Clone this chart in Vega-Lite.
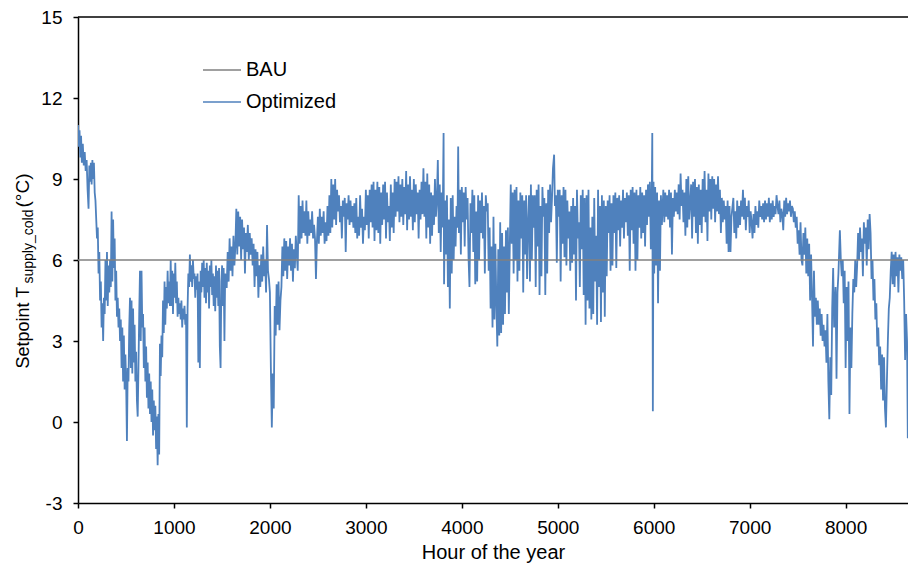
{
"$schema":"https://vega.github.io/schema/vega-lite/v6.json",
"width":830,"height":486,
"autosize":{"type":"none"},
"padding":{"left":78,"top":17,"right":0,"bottom":65},
"background":"white",
"config":{"font":"Liberation Sans","view":{"stroke":null},
"axis":{"grid":false,"domainColor":"black","domainWidth":1.5,"tickColor":"black","tickWidth":1.5,"tickSize":5,"labelColor":"black","labelFontSize":19,"titleFontSize":20,"titleFontWeight":"normal","titleColor":"black","labelFont":"Liberation Sans","titleFont":"Liberation Sans"}},
"resolve":{"scale":{"y":"independent"},"axis":{"y":"independent"}},
"datasets":{
"bau":[{"h":0,"v":6},{"h":8650,"v":6}],
"opt":[
{"h":0,"v":11.0},{"h":8,"v":10.2},{"h":16,"v":10.8},{"h":24,"v":9.8},{"h":32,"v":10.6},{"h":40,"v":9.6},{"h":50,"v":10.3},{"h":60,"v":9.5},{"h":70,"v":10.0},{"h":80,"v":9.3},{"h":90,"v":9.7},{"h":100,"v":8.6},{"h":110,"v":7.9},{"h":118,"v":9.5},{"h":126,"v":8.9},{"h":134,"v":9.6},{"h":142,"v":8.8},{"h":150,"v":9.7},{"h":158,"v":9.0},{"h":166,"v":9.6},{"h":174,"v":8.5},{"h":182,"v":8.2},{"h":190,"v":7.5},{"h":198,"v":6.8},{"h":206,"v":7.2},{"h":214,"v":5.5},{"h":222,"v":6.3},{"h":230,"v":4.5},{"h":238,"v":5.2},{"h":246,"v":3.5},{"h":254,"v":4.4},{"h":262,"v":3.0},{"h":270,"v":4.6},{"h":278,"v":4.0},{"h":286,"v":6.0},{"h":294,"v":4.5},{"h":302,"v":6.3},{"h":310,"v":4.3},{"h":318,"v":5.8},{"h":326,"v":4.8},{"h":334,"v":6.0},{"h":342,"v":5.0},{"h":350,"v":7.8},{"h":358,"v":5.2},{"h":366,"v":7.5},{"h":374,"v":5.7},{"h":382,"v":6.8},{"h":390,"v":4.5},{"h":398,"v":5.6},{"h":406,"v":3.9},{"h":414,"v":4.6},{"h":422,"v":3.5},{"h":430,"v":4.2},{"h":438,"v":3.0},{"h":446,"v":3.8},{"h":454,"v":2.0},{"h":462,"v":3.5},{"h":470,"v":1.5},{"h":478,"v":3.2},{"h":486,"v":1.2},{"h":494,"v":2.5},{"h":502,"v":1.4},{"h":510,"v":-0.7},{"h":518,"v":2.0},{"h":526,"v":1.5},{"h":534,"v":3.5},{"h":542,"v":4.6},{"h":550,"v":2.0},{"h":558,"v":4.5},{"h":566,"v":1.8},{"h":574,"v":4.2},{"h":582,"v":2.2},{"h":590,"v":3.6},{"h":598,"v":1.5},{"h":606,"v":2.6},{"h":614,"v":0.8},{"h":622,"v":0.2},{"h":630,"v":2.0},{"h":638,"v":4.0},{"h":646,"v":5.6},{"h":654,"v":3.0},{"h":662,"v":5.6},{"h":670,"v":3.5},{"h":678,"v":4.0},{"h":686,"v":2.0},{"h":694,"v":3.5},{"h":702,"v":1.5},{"h":710,"v":2.8},{"h":718,"v":0.9},{"h":726,"v":2.2},{"h":734,"v":0.5},{"h":742,"v":1.8},{"h":750,"v":0.3},{"h":758,"v":1.5},{"h":766,"v":0.0},{"h":774,"v":1.2},{"h":782,"v":-0.5},{"h":790,"v":0.8},{"h":798,"v":-0.3},{"h":806,"v":0.6},{"h":814,"v":-1.0},{"h":822,"v":0.2},{"h":830,"v":-1.6},{"h":838,"v":0.3},{"h":846,"v":-1.2},{"h":854,"v":2.9},{"h":862,"v":1.7},{"h":870,"v":3.2},{"h":878,"v":2.4},{"h":886,"v":4.5},{"h":894,"v":3.3},{"h":902,"v":5.2},{"h":910,"v":3.6},{"h":918,"v":5.0},{"h":926,"v":4.2},{"h":934,"v":5.6},{"h":942,"v":4.4},{"h":950,"v":5.2},{"h":958,"v":4.3},{"h":966,"v":6.0},{"h":974,"v":4.3},{"h":982,"v":5.6},{"h":990,"v":4.0},{"h":998,"v":5.5},{"h":1006,"v":4.6},{"h":1014,"v":5.9},{"h":1022,"v":4.4},{"h":1030,"v":5.2},{"h":1038,"v":3.9},{"h":1046,"v":4.6},{"h":1054,"v":4.0},{"h":1062,"v":4.4},{"h":1070,"v":3.8},{"h":1078,"v":4.5},{"h":1086,"v":3.5},{"h":1094,"v":4.2},{"h":1102,"v":3.8},{"h":1110,"v":4.3},{"h":1118,"v":3.6},{"h":1126,"v":4.0},{"h":1134,"v":-0.2},{"h":1142,"v":4.2},{"h":1150,"v":5.5},{"h":1158,"v":5.0},{"h":1166,"v":6.2},{"h":1174,"v":5.2},{"h":1182,"v":5.8},{"h":1190,"v":5.0},{"h":1198,"v":6.0},{"h":1206,"v":5.3},{"h":1214,"v":5.5},{"h":1222,"v":4.6},{"h":1230,"v":5.4},{"h":1238,"v":4.9},{"h":1246,"v":5.5},{"h":1254,"v":2.2},{"h":1262,"v":5.2},{"h":1270,"v":2.0},{"h":1278,"v":5.6},{"h":1286,"v":4.8},{"h":1294,"v":5.9},{"h":1302,"v":5.0},{"h":1310,"v":6.0},{"h":1318,"v":4.6},{"h":1326,"v":5.7},{"h":1334,"v":4.4},{"h":1342,"v":5.9},{"h":1350,"v":4.8},{"h":1358,"v":5.6},{"h":1366,"v":4.2},{"h":1374,"v":5.8},{"h":1382,"v":5.0},{"h":1390,"v":6.0},{"h":1398,"v":4.7},{"h":1406,"v":5.5},{"h":1414,"v":4.3},{"h":1422,"v":5.4},{"h":1430,"v":4.1},{"h":1438,"v":5.8},{"h":1446,"v":4.6},{"h":1454,"v":5.6},{"h":1462,"v":4.3},{"h":1470,"v":5.7},{"h":1478,"v":2.8},{"h":1486,"v":2.0},{"h":1494,"v":5.2},{"h":1502,"v":5.8},{"h":1510,"v":4.3},{"h":1518,"v":5.7},{"h":1526,"v":3.0},{"h":1534,"v":5.5},{"h":1542,"v":5.0},
{"h":1550,"v":5.0},{"h":1560,"v":6.3},{"h":1570,"v":5.2},{"h":1580,"v":6.8},{"h":1590,"v":5.6},{"h":1600,"v":6.5},{"h":1610,"v":5.4},{"h":1620,"v":6.9},{"h":1630,"v":5.8},{"h":1640,"v":6.5},{"h":1650,"v":7.9},{"h":1660,"v":6.2},{"h":1670,"v":7.8},{"h":1680,"v":6.5},{"h":1690,"v":7.6},{"h":1700,"v":6.0},{"h":1710,"v":7.5},{"h":1720,"v":6.4},{"h":1730,"v":7.2},{"h":1740,"v":5.5},{"h":1750,"v":7.0},{"h":1760,"v":6.3},{"h":1770,"v":7.3},{"h":1780,"v":6.0},{"h":1790,"v":7.0},{"h":1800,"v":6.2},{"h":1810,"v":6.8},{"h":1820,"v":5.8},{"h":1830,"v":6.6},{"h":1840,"v":5.0},{"h":1850,"v":6.4},{"h":1860,"v":5.4},{"h":1870,"v":6.3},{"h":1880,"v":4.6},{"h":1890,"v":5.8},{"h":1900,"v":5.0},{"h":1910,"v":6.2},{"h":1920,"v":5.2},{"h":1930,"v":6.5},{"h":1940,"v":5.4},{"h":1950,"v":6.0},{"h":1960,"v":4.8},{"h":1970,"v":7.3},{"h":1980,"v":5.6},{"h":1990,"v":5.3},{"h":2000,"v":4.8},{"h":2010,"v":2.0},{"h":2020,"v":-0.2},{"h":2030,"v":1.8},{"h":2040,"v":0.5},{"h":2050,"v":4.3},{"h":2060,"v":3.2},{"h":2070,"v":5.1},{"h":2080,"v":3.6},{"h":2090,"v":5.2},{"h":2100,"v":3.4},{"h":2110,"v":4.5},{"h":2120,"v":5.0},{"h":2130,"v":6.5},{"h":2140,"v":5.4},{"h":2150,"v":6.8},{"h":2160,"v":5.6},{"h":2170,"v":6.7},{"h":2180,"v":5.3},{"h":2190,"v":6.5},{"h":2200,"v":5.8},{"h":2210,"v":6.8},{"h":2220,"v":5.6},{"h":2230,"v":6.6},{"h":2240,"v":5.2},{"h":2250,"v":6.4},{"h":2260,"v":5.7},{"h":2270,"v":6.9},{"h":2280,"v":6.2},{"h":2290,"v":5.6},{"h":2300,"v":8.4},{"h":2310,"v":6.6},{"h":2320,"v":8.0},{"h":2330,"v":6.8},{"h":2340,"v":8.2},{"h":2350,"v":7.0},{"h":2360,"v":7.8},{"h":2370,"v":6.9},{"h":2380,"v":8.2},{"h":2390,"v":6.6},{"h":2400,"v":7.8},{"h":2410,"v":6.9},{"h":2420,"v":7.5},{"h":2430,"v":7.0},{"h":2440,"v":7.8},{"h":2450,"v":6.8},{"h":2460,"v":7.3},{"h":2470,"v":6.8},{"h":2480,"v":5.3},{"h":2490,"v":6.7},{"h":2500,"v":7.6},{"h":2510,"v":6.6},{"h":2520,"v":7.9},{"h":2530,"v":6.9},{"h":2540,"v":7.6},{"h":2550,"v":7.0},{"h":2560,"v":7.8},{"h":2570,"v":6.6},{"h":2580,"v":7.4},{"h":2590,"v":6.7},{"h":2600,"v":8.0},{"h":2610,"v":6.9},{"h":2620,"v":8.4},{"h":2630,"v":7.0},{"h":2640,"v":9.0},{"h":2650,"v":7.2},{"h":2660,"v":8.8},{"h":2670,"v":7.5},{"h":2680,"v":9.0},{"h":2690,"v":7.3},{"h":2700,"v":8.6},{"h":2710,"v":7.8},{"h":2720,"v":8.4},{"h":2730,"v":7.4},{"h":2740,"v":8.0},{"h":2750,"v":6.8},{"h":2760,"v":8.2},{"h":2770,"v":7.6},{"h":2780,"v":8.3},{"h":2790,"v":6.3},{"h":2800,"v":8.1},{"h":2810,"v":7.5},{"h":2820,"v":8.4},{"h":2830,"v":7.3},{"h":2840,"v":8.2},{"h":2850,"v":7.4},{"h":2860,"v":8.0},{"h":2870,"v":7.2},{"h":2880,"v":8.1},
{"h":2890,"v":7.0},{"h":2900,"v":8.3},{"h":2910,"v":6.8},{"h":2920,"v":7.6},{"h":2930,"v":6.9},{"h":2940,"v":8.4},{"h":2950,"v":7.2},{"h":2960,"v":7.9},{"h":2970,"v":6.6},{"h":2980,"v":7.6},{"h":2990,"v":7.1},{"h":3000,"v":8.6},{"h":3010,"v":7.3},{"h":3020,"v":8.4},{"h":3030,"v":6.8},{"h":3040,"v":8.6},{"h":3050,"v":7.4},{"h":3060,"v":8.8},{"h":3070,"v":7.2},{"h":3080,"v":8.9},{"h":3090,"v":6.7},{"h":3100,"v":8.6},{"h":3110,"v":7.1},{"h":3120,"v":8.9},{"h":3130,"v":7.0},{"h":3140,"v":8.7},{"h":3150,"v":6.6},{"h":3160,"v":8.5},{"h":3170,"v":7.3},{"h":3180,"v":8.8},{"h":3190,"v":7.5},{"h":3200,"v":8.9},{"h":3210,"v":6.8},{"h":3220,"v":8.5},{"h":3230,"v":7.4},{"h":3240,"v":8.0},{"h":3250,"v":6.7},{"h":3260,"v":8.8},{"h":3270,"v":7.2},{"h":3280,"v":8.5},{"h":3290,"v":7.0},{"h":3300,"v":9.0},{"h":3310,"v":7.6},{"h":3320,"v":8.9},{"h":3330,"v":7.8},{"h":3340,"v":9.1},{"h":3350,"v":7.4},{"h":3360,"v":8.8},{"h":3370,"v":7.6},{"h":3380,"v":9.0},{"h":3390,"v":7.3},{"h":3400,"v":8.7},{"h":3410,"v":7.7},{"h":3420,"v":9.3},{"h":3430,"v":7.1},{"h":3440,"v":8.8},{"h":3450,"v":7.5},{"h":3460,"v":9.1},{"h":3470,"v":7.6},{"h":3480,"v":8.6},{"h":3490,"v":7.1},{"h":3500,"v":9.0},{"h":3510,"v":7.4},{"h":3520,"v":8.8},{"h":3530,"v":7.7},{"h":3540,"v":8.5},{"h":3550,"v":6.8},{"h":3560,"v":8.6},{"h":3570,"v":7.5},{"h":3580,"v":8.9},{"h":3590,"v":7.7},{"h":3600,"v":9.4},{"h":3610,"v":7.6},{"h":3620,"v":8.9},{"h":3630,"v":6.8},{"h":3640,"v":9.2},{"h":3650,"v":7.2},{"h":3660,"v":8.8},{"h":3670,"v":6.6},{"h":3680,"v":8.5},{"h":3690,"v":6.9},{"h":3700,"v":8.4},{"h":3710,"v":7.3},{"h":3720,"v":9.0},{"h":3730,"v":7.6},{"h":3740,"v":8.2},{"h":3750,"v":9.7},{"h":3760,"v":7.0},{"h":3770,"v":8.8},{"h":3780,"v":6.3},{"h":3790,"v":8.5},{"h":3800,"v":7.2},{"h":3810,"v":10.7},{"h":3815,"v":5.1},{"h":3825,"v":8.2},{"h":3835,"v":6.2},{"h":3845,"v":8.4},{"h":3855,"v":5.0},{"h":3865,"v":7.5},{"h":3875,"v":4.2},{"h":3885,"v":8.3},{"h":3895,"v":5.5},{"h":3905,"v":8.4},{"h":3915,"v":6.0},{"h":3925,"v":7.6},{"h":3935,"v":6.5},{"h":3945,"v":8.0},{"h":3955,"v":7.2},{"h":3962,"v":10.2},{"h":3970,"v":7.0},{"h":3980,"v":8.6},{"h":3990,"v":6.2},{"h":4000,"v":8.7},{"h":4010,"v":7.4},{"h":4020,"v":8.5},{"h":4030,"v":6.5},{"h":4040,"v":8.7},{"h":4050,"v":7.5},{"h":4060,"v":8.3},{"h":4070,"v":6.1},{"h":4080,"v":5.0},{"h":4090,"v":8.1},{"h":4100,"v":7.0},{"h":4110,"v":8.6},{"h":4120,"v":6.3},{"h":4130,"v":8.4},{"h":4140,"v":5.1},{"h":4150,"v":7.8},{"h":4160,"v":5.2},{"h":4170,"v":8.4},{"h":4180,"v":6.0},{"h":4190,"v":8.2},{"h":4200,"v":7.0},{"h":4210,"v":8.5},{"h":4220,"v":6.8},{"h":4230,"v":8.0},{"h":4240,"v":5.5},{"h":4250,"v":8.4},{"h":4260,"v":7.8},{"h":4270,"v":8.1},{"h":4280,"v":5.6},{"h":4290,"v":7.2},{"h":4300,"v":4.2},{"h":4310,"v":6.5},{"h":4320,"v":3.5},{"h":4330,"v":7.6},{"h":4340,"v":3.8},{"h":4350,"v":6.6},{"h":4360,"v":4.4},{"h":4370,"v":2.8},{"h":4380,"v":6.4},{"h":4390,"v":3.2},
{"h":4400,"v":7.4},{"h":4410,"v":3.3},{"h":4420,"v":7.0},{"h":4430,"v":3.6},{"h":4440,"v":6.5},{"h":4450,"v":4.0},{"h":4460,"v":7.1},{"h":4470,"v":4.8},{"h":4480,"v":7.2},{"h":4490,"v":4.0},{"h":4500,"v":6.5},{"h":4510,"v":8.8},{"h":4520,"v":6.6},{"h":4530,"v":8.5},{"h":4540,"v":5.5},{"h":4550,"v":8.6},{"h":4560,"v":6.0},{"h":4570,"v":8.7},{"h":4580,"v":5.2},{"h":4590,"v":8.2},{"h":4600,"v":5.6},{"h":4610,"v":8.5},{"h":4620,"v":6.8},{"h":4630,"v":8.4},{"h":4640,"v":4.8},{"h":4650,"v":8.2},{"h":4660,"v":6.2},{"h":4670,"v":8.4},{"h":4680,"v":5.3},{"h":4690,"v":7.4},{"h":4700,"v":8.4},{"h":4710,"v":5.2},{"h":4720,"v":8.8},{"h":4730,"v":6.0},{"h":4740,"v":8.4},{"h":4750,"v":7.2},{"h":4760,"v":8.4},{"h":4770,"v":5.0},{"h":4780,"v":8.6},{"h":4790,"v":6.5},{"h":4800,"v":8.8},{"h":4810,"v":4.7},{"h":4820,"v":8.0},{"h":4830,"v":5.4},{"h":4840,"v":8.7},{"h":4850,"v":7.6},{"h":4860,"v":8.3},{"h":4870,"v":4.7},{"h":4880,"v":8.1},{"h":4890,"v":5.5},{"h":4900,"v":8.6},{"h":4910,"v":7.0},{"h":4920,"v":8.8},{"h":4930,"v":7.4},{"h":4940,"v":8.3},{"h":4950,"v":9.4},{"h":4962,"v":9.9},{"h":4970,"v":8.0},{"h":4980,"v":8.4},{"h":4990,"v":5.9},{"h":5000,"v":8.6},{"h":5010,"v":7.6},{"h":5020,"v":8.6},{"h":5030,"v":5.2},{"h":5040,"v":8.4},{"h":5050,"v":6.6},{"h":5060,"v":8.7},{"h":5070,"v":6.1},{"h":5080,"v":8.6},{"h":5090,"v":5.8},{"h":5100,"v":8.2},{"h":5110,"v":6.8},{"h":5120,"v":7.8},{"h":5130,"v":5.6},{"h":5140,"v":8.0},{"h":5150,"v":5.9},{"h":5160,"v":8.3},{"h":5170,"v":6.2},{"h":5180,"v":8.0},{"h":5190,"v":4.5},{"h":5200,"v":8.6},{"h":5210,"v":6.8},{"h":5220,"v":7.4},{"h":5230,"v":5.0},{"h":5240,"v":8.4},{"h":5250,"v":6.4},{"h":5260,"v":8.6},{"h":5270,"v":4.7},{"h":5280,"v":8.3},{"h":5290,"v":3.6},{"h":5300,"v":8.4},{"h":5310,"v":4.5},{"h":5320,"v":8.6},{"h":5330,"v":4.2},{"h":5340,"v":7.2},{"h":5350,"v":3.8},{"h":5360,"v":7.6},{"h":5370,"v":4.0},{"h":5380,"v":8.3},{"h":5390,"v":5.2},{"h":5400,"v":6.9},{"h":5410,"v":3.6},{"h":5420,"v":8.6},{"h":5430,"v":5.0},{"h":5440,"v":8.0},{"h":5450,"v":3.7},{"h":5460,"v":8.4},{"h":5470,"v":4.8},{"h":5480,"v":8.2},{"h":5490,"v":3.9},{"h":5500,"v":8.0},{"h":5510,"v":5.4},{"h":5520,"v":8.2},{"h":5530,"v":7.0},{"h":5540,"v":8.4},{"h":5550,"v":5.6},{"h":5560,"v":8.1},{"h":5570,"v":5.8},{"h":5580,"v":8.4},{"h":5590,"v":7.0},{"h":5600,"v":8.5},{"h":5610,"v":5.7},{"h":5620,"v":8.3},{"h":5630,"v":7.1},{"h":5640,"v":8.4},{"h":5650,"v":6.5},{"h":5660,"v":8.2},{"h":5670,"v":7.2},{"h":5680,"v":8.6},{"h":5690,"v":6.8},{"h":5700,"v":8.3},{"h":5710,"v":7.4},{"h":5720,"v":8.5},{"h":5730,"v":6.9},{"h":5740,"v":8.4},{"h":5750,"v":5.6},{"h":5760,"v":8.6},{"h":5770,"v":7.1},{"h":5780,"v":8.7},{"h":5790,"v":6.6},{"h":5800,"v":8.5},{"h":5810,"v":5.6},
{"h":5820,"v":8.6},{"h":5830,"v":6.0},{"h":5840,"v":8.4},{"h":5850,"v":7.2},{"h":5860,"v":8.7},{"h":5870,"v":6.8},{"h":5880,"v":8.5},{"h":5890,"v":7.0},{"h":5900,"v":8.4},{"h":5910,"v":6.5},{"h":5920,"v":8.6},{"h":5930,"v":7.3},{"h":5940,"v":8.8},{"h":5950,"v":7.6},{"h":5960,"v":8.9},{"h":5970,"v":6.4},{"h":5980,"v":8.6},{"h":5985,"v":10.7},{"h":5991,"v":0.4},{"h":5998,"v":8.9},{"h":6005,"v":5.5},{"h":6015,"v":8.7},{"h":6025,"v":5.8},{"h":6035,"v":8.5},{"h":6045,"v":4.4},{"h":6055,"v":8.2},{"h":6065,"v":5.6},{"h":6075,"v":8.4},{"h":6085,"v":7.3},{"h":6100,"v":8.6},{"h":6110,"v":7.4},{"h":6120,"v":8.5},{"h":6130,"v":7.6},{"h":6140,"v":8.4},{"h":6150,"v":7.5},{"h":6160,"v":8.6},{"h":6170,"v":7.2},{"h":6180,"v":8.5},{"h":6190,"v":6.2},{"h":6200,"v":8.3},{"h":6210,"v":7.6},{"h":6220,"v":8.6},{"h":6230,"v":7.8},{"h":6240,"v":8.5},{"h":6250,"v":7.7},{"h":6260,"v":8.8},{"h":6270,"v":7.5},{"h":6280,"v":9.2},{"h":6290,"v":8.0},{"h":6300,"v":8.6},{"h":6310,"v":7.4},{"h":6320,"v":8.5},{"h":6330,"v":6.9},{"h":6340,"v":9.0},{"h":6350,"v":7.2},{"h":6360,"v":9.1},{"h":6370,"v":7.5},{"h":6390,"v":8.8},{"h":6400,"v":6.8},{"h":6410,"v":8.9},{"h":6420,"v":7.6},{"h":6430,"v":9.0},{"h":6440,"v":7.0},{"h":6450,"v":8.7},{"h":6460,"v":6.6},{"h":6470,"v":8.8},{"h":6480,"v":7.3},{"h":6490,"v":8.6},{"h":6500,"v":7.0},{"h":6510,"v":9.0},{"h":6520,"v":7.6},{"h":6530,"v":9.3},{"h":6540,"v":7.4},{"h":6550,"v":8.6},{"h":6560,"v":6.7},{"h":6570,"v":9.2},{"h":6580,"v":7.8},{"h":6590,"v":9.0},{"h":6600,"v":7.5},{"h":6610,"v":9.1},{"h":6620,"v":7.9},{"h":6630,"v":9.0},{"h":6640,"v":7.4},{"h":6650,"v":8.8},{"h":6660,"v":7.8},{"h":6670,"v":9.1},{"h":6680,"v":7.7},{"h":6690,"v":8.6},{"h":6700,"v":7.0},{"h":6710,"v":8.3},{"h":6720,"v":7.4},{"h":6730,"v":8.2},{"h":6740,"v":7.5},{"h":6750,"v":8.0},{"h":6760,"v":6.6},{"h":6770,"v":8.2},{"h":6780,"v":6.3},{"h":6790,"v":8.0},{"h":6800,"v":6.3},{"h":6810,"v":7.6},{"h":6830,"v":8.3},{"h":6840,"v":7.0},{"h":6850,"v":7.8},{"h":6860,"v":6.8},{"h":6870,"v":8.2},{"h":6880,"v":7.2},{"h":6890,"v":8.0},{"h":6900,"v":7.3},{"h":6910,"v":8.2},{"h":6920,"v":7.6},{"h":6930,"v":8.6},{"h":6940,"v":7.5},{"h":6950,"v":8.3},{"h":6960,"v":7.1},{"h":6970,"v":8.0},{"h":6980,"v":7.6},{"h":6990,"v":8.2},{"h":7000,"v":7.0},{"h":7010,"v":7.8},{"h":7020,"v":7.4},{"h":7030,"v":6.8},{"h":7040,"v":7.7},{"h":7050,"v":7.0},{"h":7060,"v":8.0},{"h":7070,"v":7.3},{"h":7080,"v":7.8},{"h":7090,"v":7.2},{"h":7100,"v":8.2},{"h":7110,"v":7.6},{"h":7120,"v":8.0},{"h":7130,"v":7.5},{"h":7140,"v":8.1},{"h":7150,"v":7.4},{"h":7160,"v":8.2},{"h":7170,"v":7.5},{"h":7180,"v":8.1},{"h":7190,"v":7.6},{"h":7200,"v":8.3},{"h":7210,"v":7.4},
{"h":7220,"v":8.1},{"h":7230,"v":7.5},{"h":7240,"v":8.2},{"h":7250,"v":7.6},{"h":7260,"v":8.0},{"h":7270,"v":7.7},{"h":7280,"v":8.4},{"h":7290,"v":8.0},{"h":7300,"v":7.7},{"h":7310,"v":8.2},{"h":7320,"v":7.4},{"h":7330,"v":7.9},{"h":7340,"v":7.7},{"h":7350,"v":7.1},{"h":7360,"v":8.2},{"h":7370,"v":7.6},{"h":7380,"v":8.3},{"h":7390,"v":7.7},{"h":7400,"v":8.1},{"h":7410,"v":7.8},{"h":7420,"v":8.2},{"h":7430,"v":7.6},{"h":7440,"v":8.0},{"h":7450,"v":7.9},{"h":7460,"v":7.4},{"h":7470,"v":7.8},{"h":7480,"v":7.2},{"h":7490,"v":7.6},{"h":7500,"v":6.6},{"h":7510,"v":7.1},{"h":7520,"v":6.2},{"h":7530,"v":7.4},{"h":7540,"v":6.0},{"h":7550,"v":5.8},{"h":7560,"v":7.0},{"h":7570,"v":6.2},{"h":7580,"v":7.2},{"h":7590,"v":5.5},{"h":7600,"v":6.8},{"h":7610,"v":5.4},{"h":7620,"v":6.6},{"h":7630,"v":4.5},{"h":7640,"v":6.2},{"h":7650,"v":4.6},{"h":7660,"v":2.8},{"h":7670,"v":5.6},{"h":7680,"v":3.9},{"h":7690,"v":4.6},{"h":7700,"v":3.6},{"h":7710,"v":4.5},{"h":7720,"v":3.6},{"h":7730,"v":4.2},{"h":7740,"v":3.2},{"h":7750,"v":4.0},{"h":7760,"v":3.0},{"h":7770,"v":3.6},{"h":7780,"v":2.8},{"h":7790,"v":3.4},{"h":7800,"v":2.2},{"h":7810,"v":4.0},{"h":7820,"v":1.5},{"h":7830,"v":0.1},{"h":7840,"v":2.4},{"h":7850,"v":1.0},{"h":7860,"v":4.2},{"h":7870,"v":5.7},{"h":7880,"v":3.5},{"h":7895,"v":5.0},{"h":7905,"v":1.6},{"h":7915,"v":4.8},{"h":7925,"v":5.5},{"h":7940,"v":7.1},{"h":7950,"v":6.0},{"h":7960,"v":5.4},{"h":7970,"v":6.0},{"h":7980,"v":4.4},{"h":7990,"v":5.6},{"h":8000,"v":2.0},{"h":8010,"v":5.0},{"h":8020,"v":3.0},{"h":8030,"v":5.2},{"h":8040,"v":0.3},{"h":8050,"v":3.5},{"h":8060,"v":2.0},{"h":8070,"v":4.0},{"h":8080,"v":5.3},{"h":8090,"v":4.8},{"h":8100,"v":6.0},{"h":8110,"v":5.0},{"h":8120,"v":5.8},{"h":8130,"v":7.0},{"h":8140,"v":6.0},{"h":8150,"v":7.2},{"h":8160,"v":6.3},{"h":8170,"v":6.8},{"h":8180,"v":5.4},{"h":8190,"v":7.4},{"h":8200,"v":6.6},{"h":8210,"v":7.2},{"h":8220,"v":5.8},{"h":8230,"v":7.5},{"h":8240,"v":6.4},{"h":8250,"v":7.7},{"h":8260,"v":7.0},{"h":8270,"v":5.3},{"h":8280,"v":6.0},{"h":8290,"v":4.5},{"h":8300,"v":5.3},{"h":8310,"v":3.8},{"h":8320,"v":4.4},{"h":8330,"v":2.8},{"h":8340,"v":3.5},{"h":8350,"v":2.1},{"h":8360,"v":2.8},{"h":8370,"v":1.2},{"h":8380,"v":2.5},{"h":8390,"v":0.8},{"h":8400,"v":2.4},{"h":8410,"v":0.5},{"h":8420,"v":-0.2},{"h":8430,"v":1.5},{"h":8440,"v":3.0},{"h":8450,"v":4.2},{"h":8460,"v":4.6},{"h":8470,"v":5.6},{"h":8480,"v":6.3},{"h":8490,"v":5.1},{"h":8500,"v":6.2},{"h":8510,"v":5.0},{"h":8520,"v":6.3},{"h":8530,"v":5.4},{"h":8540,"v":6.1},{"h":8550,"v":4.8},{"h":8560,"v":6.2},{"h":8570,"v":5.6},{"h":8580,"v":6.1},{"h":8590,"v":5.3},{"h":8600,"v":6.0},{"h":8610,"v":4.5},{"h":8620,"v":2.3},{"h":8630,"v":4.0},{"h":8640,"v":3.0},{"h":8648,"v":-0.6},{"h":8660,"v":2.0}
]},
"layer":[
{"data":{"name":"opt"},
 "mark":{"type":"line","strokeWidth":1.8,"clip":true},
 "encoding":{
  "x":{"field":"h","type":"quantitative","scale":{"domain":[0,8650],"nice":false,"zero":false},
       "axis":{"values":[0,1000,2000,3000,4000,5000,6000,7000,8000],"labelExpr":"''+datum.value","title":"Hour of the year","labelPadding":10,"titlePadding":5,"labelFlush":false}},
  "y":{"field":"v","type":"quantitative","scale":{"domain":[-3,15],"nice":false,"zero":false},
       "axis":{"orient":"left","values":[-3,0,3,6,9,12,15],"labelExpr":"''+datum.value","labelPadding":11,"title":"Setpoint T","titleFontSize":18,"titleAngle":270,"titleAlign":"left","titleBaseline":"alphabetic","titleX":-50,"titleY":351}},
  "color":{"datum":"Optimized","type":"nominal",
       "scale":{"domain":["BAU","Optimized"],"range":["#808080","#4f81bd"]},
       "legend":{"title":null,"orient":"none","legendX":124,"legendY":33,"symbolType":"stroke","symbolSize":1444,"symbolStrokeWidth":1.5,"labelFontSize":20,"labelColor":"black","labelOffset":4,"rowPadding":2}}
 }},
{"data":{"name":"bau"},
 "mark":{"type":"line","strokeWidth":1.3},
 "encoding":{"x":{"field":"h","type":"quantitative"},
  "y":{"field":"v","type":"quantitative","scale":{"domain":[-3,15],"nice":false,"zero":false},
       "axis":{"orient":"left","domain":false,"ticks":false,"labels":false,"title":"supply_cold","titleFontSize":14,"titleAngle":270,"titleAlign":"left","titleBaseline":"alphabetic","titleX":-46,"titleY":266}},
  "color":{"datum":"BAU","type":"nominal"}}},
{"data":{"values":[{}]},
 "mark":{"type":"rule","color":"black","strokeWidth":1.5},
 "encoding":{"y":{"datum":15,"type":"quantitative","scale":{"domain":[-3,15],"nice":false,"zero":false},
       "axis":{"orient":"left","domain":false,"ticks":false,"labels":false,"title":"(°C)","titleFontSize":19,"titleAngle":270,"titleAlign":"left","titleBaseline":"alphabetic","titleX":-50,"titleY":190}}}}
]
}
